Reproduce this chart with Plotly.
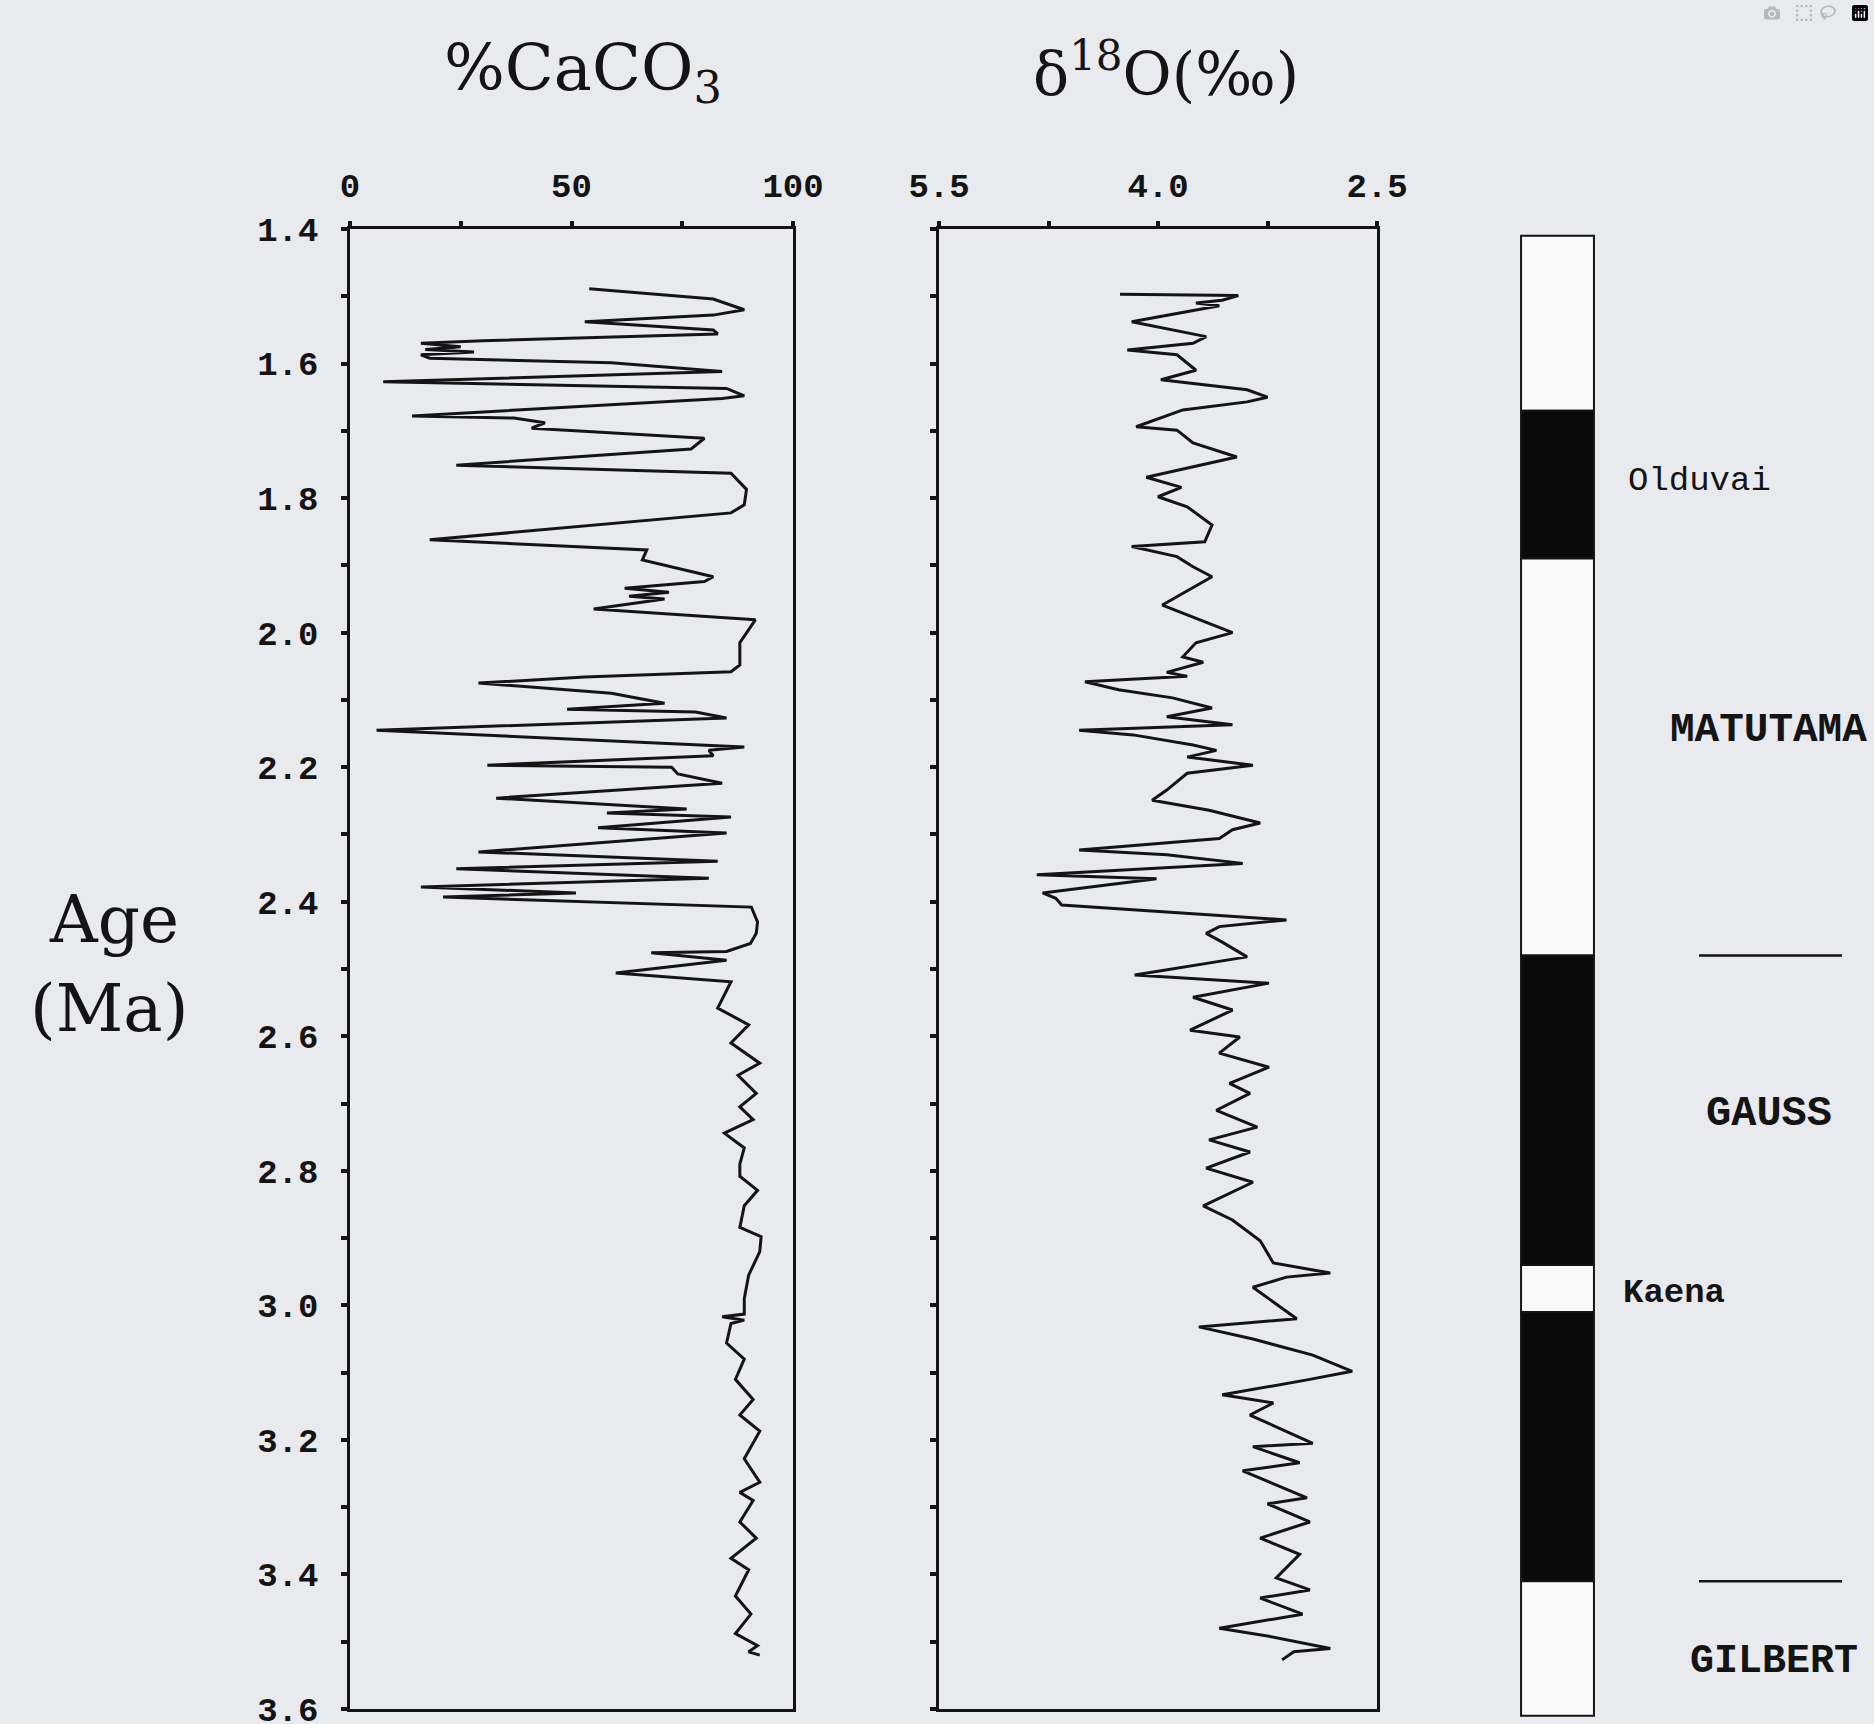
import plotly.graph_objects as go

# ---------------- data ----------------
caco3_age = [1.489, 1.504, 1.520, 1.528, 1.538, 1.550, 1.556, 1.566, 1.570, 1.575, 1.579, 1.583,
             1.587, 1.592, 1.599, 1.612, 1.627, 1.637, 1.648, 1.652, 1.678, 1.681, 1.688, 1.696,
             1.711, 1.727, 1.751, 1.763, 1.787, 1.810, 1.822, 1.862, 1.877, 1.892, 1.917, 1.924,
             1.934, 1.940, 1.946, 1.950, 1.965, 1.981, 2.015, 2.048, 2.058, 2.066, 2.075, 2.090,
             2.105, 2.114, 2.118, 2.127, 2.145, 2.170, 2.175, 2.183, 2.197, 2.200, 2.210, 2.224,
             2.246, 2.262, 2.268, 2.274, 2.290, 2.298, 2.326, 2.340, 2.351, 2.365, 2.378, 2.387,
             2.393, 2.408, 2.430, 2.447, 2.462, 2.474, 2.476, 2.487, 2.506, 2.519, 2.558, 2.583,
             2.610, 2.640, 2.658, 2.685, 2.705, 2.724, 2.744, 2.766, 2.790, 2.808, 2.829, 2.852,
             2.884, 2.898, 2.920, 2.955, 2.990, 3.013, 3.017, 3.022, 3.027, 3.056, 3.080, 3.110,
             3.140, 3.163, 3.187, 3.228, 3.263, 3.278, 3.290, 3.322, 3.346, 3.376, 3.393, 3.432,
             3.459, 3.488, 3.506, 3.515, 3.520]
caco3_pct = [54, 82, 89, 82, 53, 82, 83, 30, 16, 25, 17, 28,
             16, 18, 59, 84, 7.5, 85, 89, 84, 14, 37, 44, 41,
             80, 77, 24, 86, 89.5, 89, 86, 18, 67, 66, 82, 80,
             62, 72, 63, 71, 55, 91.5, 88, 88, 86, 53, 29, 59,
             71, 49, 78, 85, 6, 89, 81, 82, 31, 72.6, 74, 84,
             33, 76, 58, 86, 56, 85, 29, 83, 24, 81, 16, 51,
             21, 90.6, 92, 91.7, 90.4, 85, 68, 85, 60, 86, 83, 90,
             86, 92.5, 87.6, 91.7, 88, 91, 84.5, 89, 88, 88, 92, 89,
             88, 92.8, 92.5, 90, 89, 89, 84, 89, 86, 85, 89, 87,
             91, 88, 92.5, 89, 92.5, 88, 91, 88, 91.7, 86, 90, 87,
             90.5, 87, 92, 90, 92.5]

d18o_age = [1.497, 1.499, 1.506, 1.510, 1.514, 1.538, 1.560, 1.570, 1.580, 1.587, 1.610, 1.624,
            1.639, 1.650, 1.657, 1.669, 1.694, 1.699, 1.718, 1.739, 1.769, 1.784, 1.798, 1.813,
            1.840, 1.865, 1.872, 1.887, 1.902, 1.917, 1.959, 1.974, 2.000, 2.015, 2.036, 2.044,
            2.059, 2.065, 2.073, 2.085, 2.097, 2.112, 2.125, 2.137, 2.145, 2.152, 2.167, 2.175,
            2.185, 2.197, 2.209, 2.234, 2.249, 2.264, 2.283, 2.293, 2.306, 2.323, 2.330, 2.343,
            2.360, 2.366, 2.387, 2.395, 2.405, 2.427, 2.437, 2.447, 2.460, 2.482, 2.509, 2.521,
            2.542, 2.561, 2.591, 2.601, 2.625, 2.646, 2.670, 2.685, 2.710, 2.735, 2.754, 2.772,
            2.796, 2.817, 2.852, 2.873, 2.904, 2.937, 2.952, 2.958, 2.973, 3.020, 3.032, 3.050,
            3.074, 3.098, 3.110, 3.133, 3.145, 3.163, 3.205, 3.210, 3.234, 3.246, 3.286, 3.295,
            3.322, 3.346, 3.370, 3.405, 3.423, 3.435, 3.459, 3.480, 3.492, 3.510, 3.515, 3.527]
d18o_val = [4.26, 3.45, 3.56, 3.74, 3.58, 4.18, 3.67, 3.76, 4.21, 3.87, 3.74, 3.98,
            3.39, 3.25, 3.39, 3.83, 4.15, 3.87, 3.76, 3.46, 4.08, 3.84, 4.00, 3.80,
            3.63, 3.68, 4.18, 3.87, 3.76, 3.63, 3.97, 3.79, 3.49, 3.74, 3.83, 3.69,
            3.94, 3.80, 4.50, 4.27, 3.90, 3.63, 3.94, 3.49, 4.54, 4.17, 3.76, 3.60,
            3.80, 3.35, 3.80, 3.94, 4.04, 3.65, 3.30, 3.49, 3.58, 4.54, 3.94, 3.42,
            4.83, 4.01, 4.79, 4.70, 4.66, 3.12, 3.58, 3.67, 3.56, 3.39, 4.16, 3.24,
            3.76, 3.49, 3.78, 3.44, 3.58, 3.24, 3.51, 3.37, 3.60, 3.32, 3.65, 3.37,
            3.67, 3.35, 3.69, 3.49, 3.30, 3.21, 2.82, 3.12, 3.35, 3.05, 3.72, 3.35,
            2.94, 2.67, 2.96, 3.56, 3.21, 3.37, 2.94, 3.35, 3.03, 3.42, 2.98, 3.25,
            2.96, 3.30, 3.03, 3.19, 2.96, 3.30, 3.01, 3.58, 3.24, 2.82, 3.07, 3.15]

# magnetic polarity column (Ma)
chron_start = [1.41, 1.67, 1.89, 2.48, 2.94, 3.01, 3.41]
chron_end = [1.67, 1.89, 2.48, 2.94, 3.01, 3.41, 3.61]
chron_normal = [False, True, False, True, False, True, False]
chron_labels = ["Olduvai", "MATUTAMA", "GAUSS", "Kaena", "GILBERT"]
chron_label_age = [1.775, 2.145, 2.715, 2.982, 3.53]
boundary_ages = [2.48, 3.41]

age_ticks = [1.4, 1.6, 1.8, 2.0, 2.2, 2.4, 2.6, 2.8, 3.0, 3.2, 3.4, 3.6]
caco3_ticks = [0, 50, 100]
d18o_ticks = [5.5, 4.0, 2.5]

# ---------------- layout helpers ----------------
W, H = 1874, 1724
BG = "#e9eaee"
INK = "#141414"


def fx(px):
    return px / W


def fy(py):
    return 1 - py / H


ydom = [fy(1709), fy(229)]
tickfont = dict(family="Liberation Mono", size=34, color=INK, weight="bold")

fig = go.Figure()

fig.add_trace(go.Scatter(x=caco3_pct, y=caco3_age, mode="lines",
                         line=dict(color=INK, width=3), xaxis="x", yaxis="y",
                         showlegend=False, hoverinfo="skip"))
fig.add_trace(go.Scatter(x=d18o_val, y=d18o_age, mode="lines",
                         line=dict(color=INK, width=3), xaxis="x2", yaxis="y2",
                         showlegend=False, hoverinfo="skip"))

fig.add_trace(go.Bar(x=[0] * len(chron_start),
                     y=[e - s for s, e in zip(chron_start, chron_end)],
                     base=chron_start,
                     width=1,
                     marker=dict(color=["#0a0a0a" if n else "#fafafa" for n in chron_normal],
                                 line=dict(color=INK, width=2)),
                     xaxis="x3", yaxis="y3", showlegend=False, hoverinfo="skip"))

common_x = dict(side="top", ticks="outside", ticklen=5, tickwidth=4, tickcolor=INK,
                showline=True, linewidth=3, linecolor=INK, mirror=True,
                showgrid=False, zeroline=False, tickfont=tickfont,
                ticklabelstandoff=10, fixedrange=True, automargin=False)
common_y = dict(range=[3.6, 1.4], tickvals=age_ticks, ticks="outside", ticklen=6,
                tickwidth=4, tickcolor=INK,
                minor=dict(tick0=1.4, dtick=0.1, ticks="outside", ticklen=6,
                           tickwidth=4, tickcolor=INK),
                showline=True, linewidth=2.5, linecolor=INK, mirror=True,
                showgrid=False, zeroline=False, tickfont=tickfont, fixedrange=True,
                automargin=False)

fig.update_layout(
    width=W, height=H,
    margin=dict(l=0, r=0, t=0, b=0, autoexpand=False),
    paper_bgcolor=BG, plot_bgcolor=BG,
    barmode="overlay",
    xaxis=dict(domain=[fx(350), fx(793)], range=[0, 100], anchor="y",
               tickvals=caco3_ticks,
               minor=dict(tick0=0, dtick=25, ticks="outside", ticklen=5, tickwidth=4, tickcolor=INK),
               **common_x),
    yaxis=dict(domain=ydom, anchor="x", tickformat=".1f",
               ticklabelstandoff=16, ticklabeloverflow="allow", **common_y),
    xaxis2=dict(domain=[fx(939), fx(1377)], range=[5.5, 2.5], anchor="y2",
                tickvals=d18o_ticks, tickformat=".1f",
                minor=dict(tick0=2.5, dtick=0.75, ticks="outside", ticklen=5, tickwidth=4, tickcolor=INK),
                **common_x),
    yaxis2=dict(domain=ydom, anchor="x2", showticklabels=False, **common_y),
    xaxis3=dict(domain=[fx(1517.4), fx(1597.6)], range=[-0.55, 0.55], anchor="y3",
                visible=False, fixedrange=True, automargin=False),
    yaxis3=dict(domain=[fy(1722.4), fy(229)], range=[3.62, 1.40], anchor="x3",
                visible=False, fixedrange=True, automargin=False),
)

serif = "DejaVu Serif"
mono = "Liberation Mono"
ann = [
    dict(text="%CaCO<sub>3</sub>", x=fx(583), y=fy(72), font=dict(family=serif, size=64, color=INK)),
    dict(text="δ<sup>18</sup>O(‰)", x=fx(1166), y=fy(70), font=dict(family=serif, size=60, color=INK)),
    dict(text="Age", x=fx(114), y=fy(920), font=dict(family=serif, size=66, color=INK)),
    dict(text="(Ma)", x=fx(109), y=fy(1008), font=dict(family=serif, size=66, color=INK)),
]
for a in ann:
    fig.add_annotation(xref="paper", yref="paper", showarrow=False,
                       xanchor="center", yanchor="middle", **a)

label_x = [1626, 1668, 1704, 1621, 1688]
label_font = [dict(family=mono, size=34, color=INK),
              dict(family=mono, size=41, color=INK, weight="bold"),
              dict(family=mono, size=42, color=INK, weight="bold"),
              dict(family=mono, size=34, color=INK, weight="bold"),
              dict(family=mono, size=40, color=INK, weight="bold")]
for name, age, lx, lf in zip(chron_labels, chron_label_age, label_x, label_font):
    fig.add_annotation(text=name, xref="paper", yref="y3", x=fx(lx), y=age,
                       xanchor="left", yanchor="middle", showarrow=False, font=lf)

for b in boundary_ages:
    fig.add_shape(type="line", xref="paper", yref="y3", x0=fx(1699), x1=fx(1842),
                  y0=b, y1=b, line=dict(color=INK, width=2.5))

fig.write_html("out.html", post_script="document.body.style.margin='0';document.body.style.background='%s';" % BG)
